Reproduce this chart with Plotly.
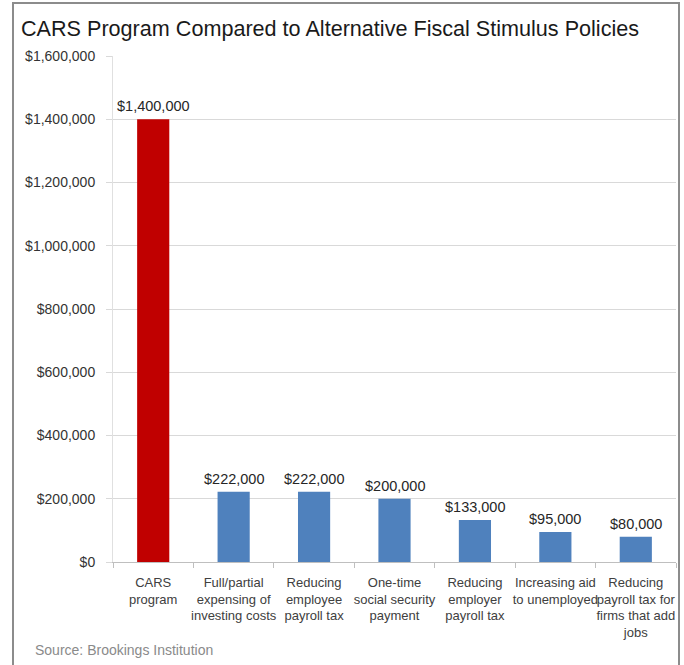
import plotly.graph_objects as go

# Cost per job created, by stimulus policy
categories = [
    "CARS<br>program",
    "Full/partial<br>expensing of<br>investing costs",
    "Reducing<br>employee<br>payroll tax",
    "One-time<br>social security<br>payment",
    "Reducing<br>employer<br>payroll tax",
    "Increasing aid<br>to unemployed",
    "Reducing<br>payroll tax for<br>firms that add<br>jobs",
]
values = [1400000, 222000, 222000, 200000, 133000, 95000, 80000]
bar_colors = ["#C00000"] + ["#4F81BD"] * 6

y_ticks = [0, 200000, 400000, 600000, 800000, 1000000, 1200000, 1400000, 1600000]
y_tick_labels = [f"${v:,}" for v in y_ticks]

W, H = 684, 665
L, R, T, B = 113, 8, 56, 103
plot_w = W - L - R
plot_h = H - T - B

FONT = "Arial, Liberation Sans, sans-serif"


def px_x(px):
    return (px - L) / plot_w


def px_y(py):
    return (H - B - py) / plot_h


fig = go.Figure(
    go.Bar(
        x=categories,
        y=values,
        marker=dict(color=bar_colors, line=dict(width=0)),
        hoverinfo="skip",
    )
)

# Value labels above each bar
for cat, v in zip(categories, values):
    fig.add_annotation(
        x=cat, y=v, text=f"${v:,}", showarrow=False,
        xanchor="center", yanchor="bottom", yshift=3,
        font=dict(family=FONT, size=14.5, color="#262626"),
    )

# Title
fig.add_annotation(
    xref="paper", yref="paper", x=px_x(19), y=px_y(28),
    xanchor="left", yanchor="middle", showarrow=False,
    text="CARS Program Compared to Alternative Fiscal Stimulus Policies",
    font=dict(family=FONT, size=21.6, color="#1a1a1a"),
)

# Source note
fig.add_annotation(
    xref="paper", yref="paper", x=px_x(33), y=px_y(650),
    xanchor="left", yanchor="middle", showarrow=False,
    text="Source: Brookings Institution",
    font=dict(family=FONT, size=14, color="#8a8a8a"),
)

# Outer frame
fig.add_shape(
    type="rect", xref="paper", yref="paper",
    x0=px_x(13), x1=px_x(679), y0=px_y(680), y1=px_y(3),
    line=dict(color="#8c8c8c", width=2), fillcolor="rgba(0,0,0,0)",
    layer="above",
)

fig.update_layout(
    width=W, height=H,
    margin=dict(l=L, r=R, t=T, b=B, pad=0, autoexpand=False),
    paper_bgcolor="white", plot_bgcolor="white",
    bargap=0.6,
    showlegend=False,
    xaxis=dict(
        type="category",
        automargin=False,
        tickangle=0,
        showline=True, linecolor="#BFBFBF", linewidth=1,
        ticks="outside", ticklen=5, tickcolor="#BFBFBF",
        tickson="boundaries",
        showgrid=False,
        tickfont=dict(family=FONT, size=13, color="#404040"),
        ticklabelstandoff=8,
    ),
    yaxis=dict(
        automargin=False,
        range=[0, 1600000],
        tickvals=y_ticks,
        ticktext=y_tick_labels,
        showgrid=True, gridcolor="#D9D9D9", gridwidth=1,
        zeroline=False,
        showline=True, linecolor="#E0E0E0", linewidth=1,
        ticks="outside", ticklen=6, tickcolor="#D9D9D9",
        tickfont=dict(family=FONT, size=14, color="#333333"),
        ticklabelstandoff=8,
    ),
)

fig.write_html("out.html")
